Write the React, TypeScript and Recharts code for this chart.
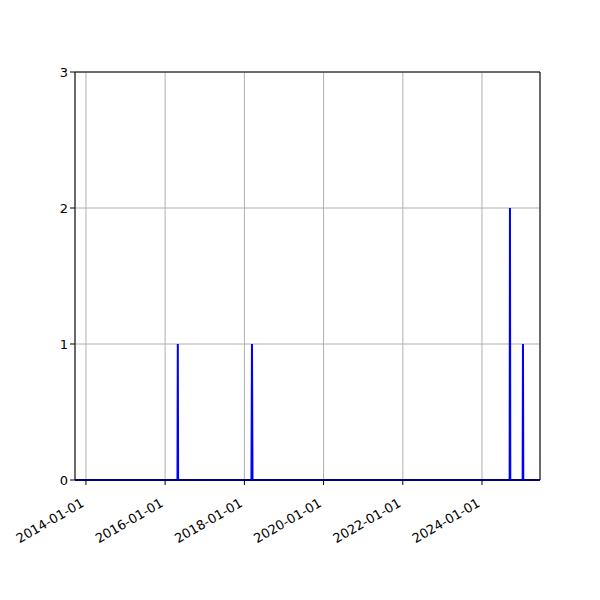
import {
  CartesianGrid,
  Line,
  LineChart,
  ReferenceArea,
  XAxis,
  YAxis,
} from "recharts";

const dates = [
  "2013-09-22",
  "2016-04-24",
  "2016-04-27",
  "2016-04-30",
  "2018-03-07",
  "2018-03-12",
  "2018-03-17",
  "2024-09-12",
  "2024-09-15",
  "2024-09-18",
  "2025-01-10",
  "2025-01-13",
  "2025-01-16",
  "2025-06-19",
];
const counts = [0, 0, 1, 0, 0, 1, 0, 0, 2, 0, 0, 1, 0, 0];

const xTickLabels = [
  "2014-01-01",
  "2016-01-01",
  "2018-01-01",
  "2020-01-01",
  "2022-01-01",
  "2024-01-01",
];
const yTicks = [0, 1, 2, 3];

const toTime = (s: string) => Date.parse(s + "T00:00:00Z");

const data = dates.map((d, i) => ({ t: toTime(d), count: counts[i] }));
const xTicks = xTickLabels.map(toTime);
const xDomain = [toTime(dates[0]), toTime(dates[dates.length - 1])];

const font = "'DejaVu Sans', sans-serif";

function formatDate(t: number) {
  return new Date(t).toISOString().slice(0, 10);
}

function DateTick({ x, y, payload }: any) {
  const ax = x - 6;
  const ay = y + 10;
  return (
    <text
      x={ax}
      y={ay}
      dy={10}
      transform={`rotate(-30, ${ax}, ${ay})`}
      textAnchor="end"
      fontSize={13}
      fontFamily={font}
      fill="#000"
    >
      {formatDate(payload.value)}
    </text>
  );
}

export default function App() {
  return (
    <div style={{ position: "absolute", left: 0, top: 0, width: 600, height: 600, background: "#fff" }}>
      <LineChart
        width={600}
        height={600}
        data={data}
        margin={{ top: 72, right: 60, bottom: 0, left: 0 }}
      >
        <CartesianGrid stroke="#b0b0b0" strokeWidth={1} />
        <XAxis
          dataKey="t"
          type="number"
          domain={xDomain}
          ticks={xTicks}
          allowDataOverflow
          height={120}
          tick={<DateTick />}
          tickSize={5}
          tickLine={{ stroke: "#000" }}
          axisLine={{ stroke: "#000" }}
          interval={0}
        />
        <YAxis
          type="number"
          domain={[0, 3]}
          ticks={yTicks}
          width={75}
          tickSize={5}
          tickLine={{ stroke: "#000" }}
          axisLine={false}
          tick={{ fontSize: 13, fontFamily: font, fill: "#000" }}
        />
        <Line
          type="linear"
          dataKey="count"
          stroke="#0000ff"
          strokeWidth={2}
          dot={false}
          activeDot={false}
          isAnimationActive={false}
        />
        <ReferenceArea
          x1={xDomain[0]}
          x2={xDomain[1]}
          y1={0}
          y2={3}
          fill="none"
          stroke="#000"
          strokeWidth={1}
          ifOverflow="visible"
        />
      </LineChart>
    </div>
  );
}
